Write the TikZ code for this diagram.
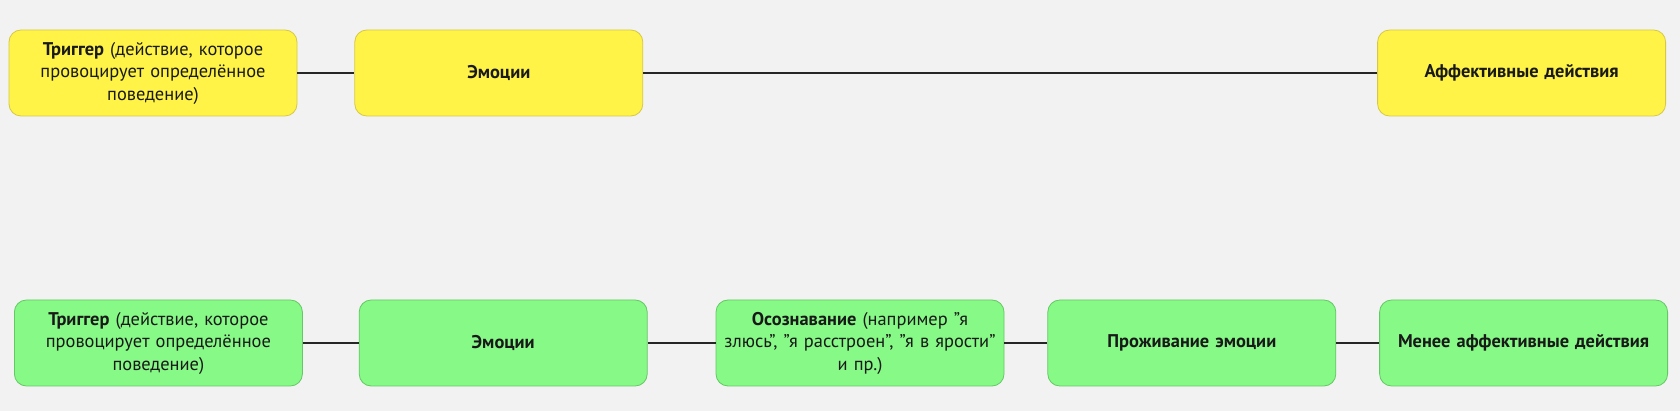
\documentclass[tikz,border=0pt]{standalone}
\usepackage{fontspec}
\setmainfont{PT Sans}
\usetikzlibrary{positioning}
\definecolor{bggray}{RGB}{242,242,242}
\definecolor{softyellow}{RGB}{255,243,72}
\definecolor{edgeyellow}{RGB}{214,200,70}
\definecolor{softgreen}{RGB}{134,249,134}
\definecolor{edgegreen}{RGB}{100,200,100}
\definecolor{linkgray}{RGB}{38,38,38}
\newcommand{\dq}{\symbol{34}}
\tikzset{
  stepbox/.style={rectangle, rounded corners=6pt, draw, line width=0.4pt,
                  minimum width=144pt, minimum height=43pt, text width=142pt,
                  inner xsep=1pt, align=center, text=black!90,
                  font=\fontsize{9.2}{11.25}\selectfont},
  stepyellow/.style={stepbox, fill=softyellow, draw=edgeyellow},
  stepgreen/.style={stepbox, fill=softgreen, draw=edgegreen},
  link/.style={line width=1.3pt, linkgray},
}

\begin{document}
\begin{tikzpicture}[x=1pt,y=1pt]
\useasboundingbox[fill=bggray] (0,0) rectangle (840,205.5);
% top row
\node[stepyellow, anchor=west] (trig1) at (4.3,169) {\textbf{Триггер} (действие, которое\\ провоцирует определённое\\ поведение)};
\node[stepyellow, right=28.5pt of trig1] (emo1) {\textbf{Эмоции}};
\node[stepyellow, anchor=east] (aff1) at (833,169) {\textbf{Аффективные действия}};
\foreach \a/\b in {trig1/emo1, emo1/aff1}
  \draw[link] (\a) -- (\b);
% bottom row
\node[stepgreen, anchor=west] (trig2) at (7,34) {\textbf{Триггер} (действие, которое\\ провоцирует определённое\\ поведение)};
\node[stepgreen, right=28pt of trig2] (emo2) {\textbf{Эмоции}};
\node[stepgreen, right=34pt of emo2] (aware) {\textbf{Осознавание} (например \dq я\\ злюсь\dq, \dq я расстроен\dq, \dq я в ярости\dq\\ и пр.)};
\node[stepgreen, right=21.5pt of aware] (live) {\textbf{Проживание эмоции}};
\node[stepgreen, right=21.5pt of live] (less) {\textbf{Менее аффективные действия}};
\foreach \a/\b in {trig2/emo2, emo2/aware, aware/live, live/less}
  \draw[link] (\a) -- (\b);
\end{tikzpicture}
\end{document}
